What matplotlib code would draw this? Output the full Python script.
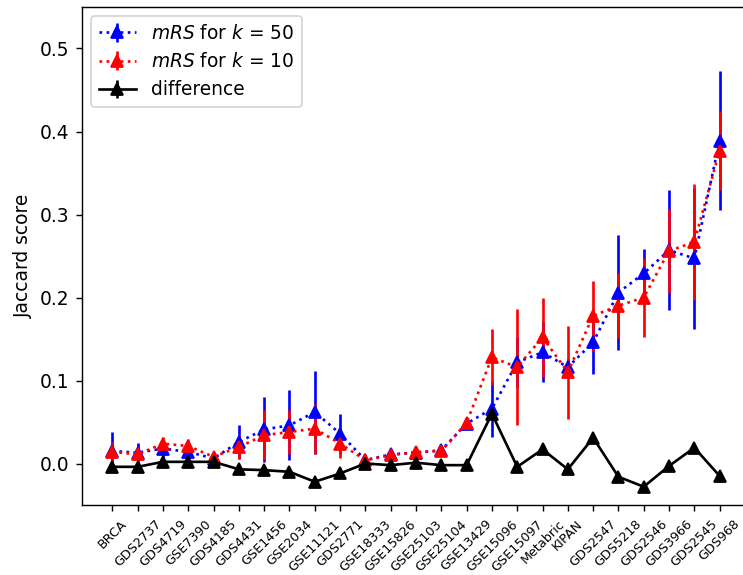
import numpy as np
import matplotlib
matplotlib.use("Agg")
import matplotlib.pyplot as plt

# datasets on the x axis
datasets = ["BRCA", "GDS2737", "GDS4719", "GSE7390", "GDS4185", "GDS4431",
            "GSE1456", "GSE2034", "GSE11121", "GDS2771", "GSE18333", "GSE15826",
            "GSE25103", "GSE25104", "GSE13429", "GSE15096", "GSE15097",
            "Metabric", "KIPAN", "GDS2547", "GDS5218", "GDS2546", "GDS3966",
            "GDS2545", "GDS968"]

# mRS, k = 50
jac_k50 = [0.015, 0.013, 0.018, 0.014, 0.006, 0.026, 0.041, 0.046, 0.062,
           0.036, 0.004, 0.011, 0.013, 0.016, 0.048, 0.066, 0.122, 0.134,
           0.116, 0.146, 0.206, 0.229, 0.257, 0.247, 0.389]
err_k50 = [0.023, 0.012, 0.010, 0.006, 0.003, 0.020, 0.039, 0.042, 0.050,
           0.024, 0.002, 0.004, 0.003, 0.003, 0.005, 0.034, 0.030, 0.036,
           0.010, 0.038, 0.069, 0.030, 0.072, 0.085, 0.084]

# mRS, k = 10
jac_k10 = [0.014, 0.011, 0.024, 0.021, 0.008, 0.020, 0.034, 0.038, 0.042,
           0.024, 0.004, 0.010, 0.014, 0.015, 0.049, 0.128, 0.116, 0.152,
           0.110, 0.178, 0.190, 0.200, 0.256, 0.267, 0.377]
err_k10 = [0.012, 0.008, 0.008, 0.008, 0.004, 0.014, 0.030, 0.027, 0.030,
           0.017, 0.002, 0.003, 0.003, 0.003, 0.004, 0.034, 0.070, 0.048,
           0.056, 0.042, 0.039, 0.047, 0.051, 0.070, 0.048]

# k=10 minus k=50
jac_diff = [-0.004, -0.004, 0.002, 0.002, 0.002, -0.007, -0.008, -0.010,
            -0.022, -0.012, 0.000, -0.002, 0.001, -0.002, -0.002, 0.060,
            -0.004, 0.017, -0.007, 0.031, -0.016, -0.028, -0.003, 0.019,
            -0.015]

x = np.arange(len(datasets))

fig = plt.figure(figsize=(743 / 128, 575 / 128), dpi=128)
ax = fig.add_axes([82 / 743, 70 / 575, 668 / 743, 498 / 575])

ax.errorbar(x, jac_k50, yerr=err_k50, fmt='b^:', ms=7, label=r'$mRS$ for $k$ = 50')
ax.errorbar(x, jac_k10, yerr=err_k10, fmt='r^:', ms=7, label=r'$mRS$ for $k$ = 10')
ax.errorbar(x, jac_diff, yerr=np.zeros(len(x)), fmt='k^-', ms=7, label='difference')

ax.set_xlim(-1.2, 25.2)
ax.set_ylim(-0.05, 0.55)
ax.set_xticks(x)
ax.set_xticklabels(datasets, rotation=45, fontsize=7.2)
ax.tick_params(axis='y', labelsize=10.5)
ax.set_ylabel("Jaccard score", fontsize=10.5)
ax.legend(loc='upper left', fontsize=10.5)

fig.savefig("out.png", dpi=128)
